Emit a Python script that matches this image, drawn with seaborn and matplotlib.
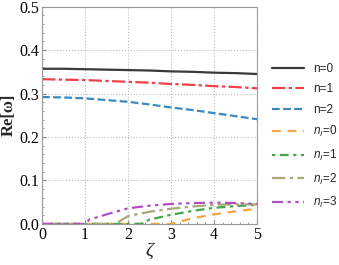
import numpy as np
import pandas as pd
import matplotlib
matplotlib.use('Agg')
import matplotlib.pyplot as plt
import seaborn as sns
from matplotlib.ticker import MultipleLocator

zeta = [0, 0.5, 1, 1.5, 2, 2.5, 3, 3.5, 4, 4.5, 5]
n0 = [0.357, 0.357, 0.356, 0.355, 0.354, 0.353, 0.351, 0.350, 0.348, 0.347, 0.345]
n1 = [0.333, 0.332, 0.331, 0.329, 0.327, 0.325, 0.322, 0.320, 0.317, 0.315, 0.312]
n2 = [0.292, 0.291, 0.289, 0.285, 0.281, 0.275, 0.268, 0.262, 0.255, 0.248, 0.241]

zeta_i0 = [0, 3.0, 3.5, 4, 4.5, 5]
ni0 = [0, 0, 0.013, 0.022, 0.029, 0.035]
zeta_i1 = [0, 2.3, 2.5, 3, 3.5, 4, 4.5, 5]
ni1 = [0, 0, 0.010, 0.021, 0.030, 0.037, 0.041, 0.044]
zeta_i2 = [0, 1.7, 2, 2.5, 3, 3.5, 4, 4.5, 5]
ni2 = [0, 0, 0.018, 0.028, 0.035, 0.040, 0.044, 0.045, 0.045]
zeta_i3 = [0, 1.0, 1.1, 1.5, 2, 2.5, 3, 3.5, 4, 4.5, 5]
ni3 = [0, 0, 0.010, 0.022, 0.036, 0.042, 0.046, 0.048, 0.049, 0.048, 0.046]

sns.set_style("ticks")
plt.rcParams['font.family'] = ['Liberation Serif', 'DejaVu Serif']
# legend math (n_I) in sans italic like the reference
plt.rcParams['mathtext.fontset'] = 'custom'
plt.rcParams['mathtext.it'] = 'Liberation Sans:italic'
plt.rcParams['mathtext.rm'] = 'Liberation Sans'

fig = plt.figure(figsize=(3.39, 2.65), dpi=100)
ax = fig.add_axes([0.124, 0.155, 0.634, 0.82])

series = [
    (zeta, n0, 'n=0', '#3a3a3a', '-'),
    (zeta, n1, 'n=1', '#f0404a', (0, (6, 1.5, 1.5, 1.5))),
    (zeta, n2, 'n=2', '#3a8ac0', (0, (3.5, 1.5))),
    (zeta_i0, ni0, r'$n_I$=0', '#f5a545', (0, (4, 3))),
    (zeta_i1, ni1, r'$n_I$=1', '#40a848', (0, (1.5, 2, 4, 2))),
    (zeta_i2, ni2, r'$n_I$=2', '#a8a878', (0, (6, 2, 1.5, 2))),
    (zeta_i3, ni3, r'$n_I$=3', '#b050c0', (0, (5, 2, 1.5, 2, 1.5, 2))),
]
for x, y, lab, c, ls in series:
    sns.lineplot(x=x, y=y, ax=ax, color=c, linewidth=1.6, label=lab, linestyle=ls)

ax.set_xlim(0, 5)
ax.set_ylim(0, 0.5)
ax.xaxis.set_major_locator(MultipleLocator(1))
ax.yaxis.set_major_locator(MultipleLocator(0.1))
ax.xaxis.set_minor_locator(MultipleLocator(0.2))
ax.yaxis.set_minor_locator(MultipleLocator(0.02))
ax.grid(True, which='major', linestyle=':', color='#bbbbbb', linewidth=0.8)
ax.tick_params(direction='in', which='both', colors='#888888', labelcolor='black',
               labelsize=11.5, length=3, pad=2)
ax.tick_params(which='minor', length=1.5)
for s in ax.spines.values():
    s.set_color('#999999')
    s.set_linewidth(0.8)

ax.set_xlabel('ζ', fontsize=14, fontstyle='italic', labelpad=0)
ax.set_ylabel('Re[ω]', fontsize=12, fontweight='bold', labelpad=2)

leg = ax.legend(loc='upper left', bbox_to_anchor=(1.02, 0.79), frameon=False,
                prop={'family': 'Liberation Sans', 'size': 8.5},
                handlelength=2.7, labelspacing=0.72, handletextpad=0.8)

fig.savefig('out.png', dpi=100)
